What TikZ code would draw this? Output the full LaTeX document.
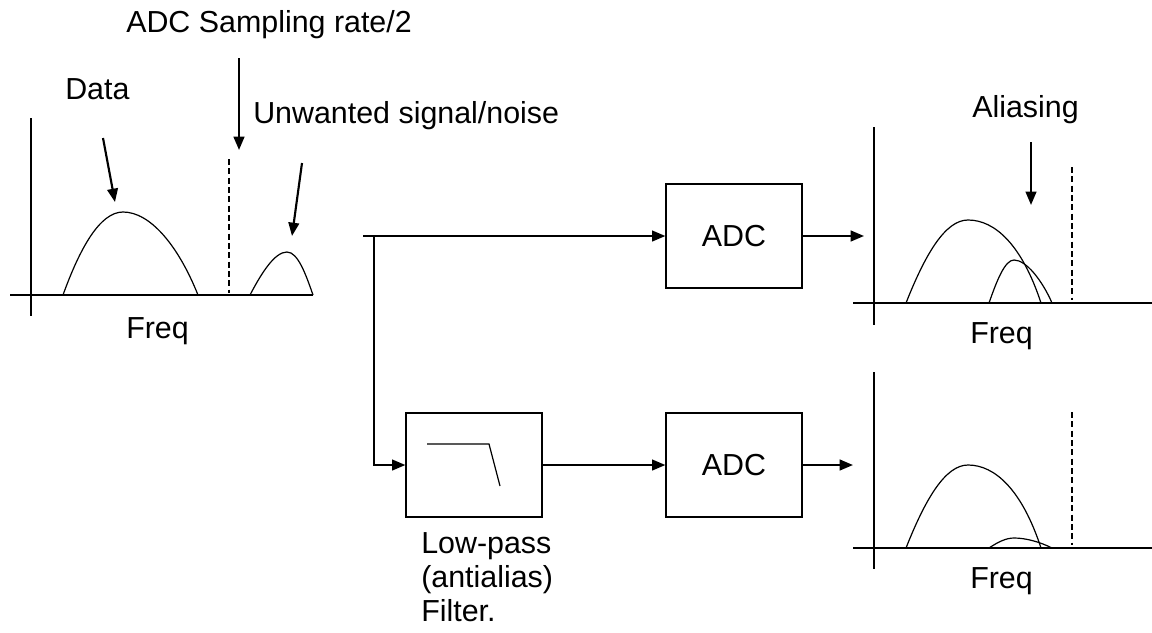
\documentclass[tikz,border=0pt]{standalone}
\usepackage{fontspec}
\setmainfont{Liberation Sans}
\usetikzlibrary{arrows.meta}
\begin{document}
\begin{tikzpicture}[x=0.75pt,y=-0.75pt,
  every node/.style={font=\fontsize{22.8}{25.5}\selectfont},
  lbl/.style={anchor=base west,inner sep=0pt,align=left},
  blk/.style={draw,line width=0.9pt,minimum width=102pt,minimum height=78pt,inner sep=0pt},
  thin/.style={line width=0.9pt},
  arr/.style={line width=1.6pt,-{Triangle[length=10pt,width=8pt]}},
  dsh/.style={line width=1.6pt,dash pattern=on 4.5pt off 2.5pt}]
\useasboundingbox (0,0) rectangle (1152,632);
% ---------- left spectrum ----------
\draw[thin] (31,118) -- (31,316);
\draw[thin] (10,295) -- (313,295);
\draw[thin] (63,295) .. controls (80,248) and (100,212) .. (123,212) .. controls (150,212) and (178,245) .. (198,295);
\draw[thin] (250,295) .. controls (262,272) and (275,252) .. (287,252) .. controls (298,252) and (306,275) .. (313,295);
\draw[dsh] (229,159) -- (229,293);
\node[lbl] (tsamp) at (126,32) {ADC Sampling rate/2};
\node[lbl] (tdata) at (65,99) {Data};
\node[lbl] (tnoise) at (253,123) {Unwanted signal/noise};
\node[lbl] (tfreq1) at (126,338) {Freq};
\coordinate (d0) at (103,138); \coordinate (d1) at (115,202);
\coordinate (s0) at (239,58);  \coordinate (s1) at (239,150);
\coordinate (n0) at (302,163); \coordinate (n1) at (292,236);
\draw[arr] (d0) -- (d1);
\draw[arr] (s0) -- (s1);
\draw[arr] (n0) -- (n1);
% ---------- blocks ----------
\node[blk] (adc1) at (734,236) {ADC};
\node[blk] (adc2) at (734,465) {ADC};
\node[blk] (filt) at (474,465) {};
\draw[thin] (427,444) -- (489,444) -- (500,486);
\node[lbl] (tfilt) at (421,621) {Low-pass\\(antialias)\\Filter.};
\coordinate (in) at (363,236);
\coordinate (split) at (374,236);
\coordinate (o1) at (864,236);
\coordinate (o2) at (853,465);
\draw[line width=1.6pt] (in) -- (split);
\draw[arr] (split) -- (adc1.west);
\draw[arr] (split) |- (filt.west);
\draw[arr] (filt.east) -- (adc2.west);
\draw[arr] (adc1.east) -- (o1);
\draw[arr] (adc2.east) -- (o2);
% ---------- top-right spectrum ----------
\draw[thin] (874,127) -- (874,325);
\draw[thin] (853,303) -- (1152,303);
\draw[thin] (906,303) .. controls (925,255) and (945,220) .. (968,220) .. controls (995,220) and (1022,245) .. (1041,303);
\draw[thin] (989,303) .. controls (997,280) and (1005,260) .. (1014,260) .. controls (1026,260) and (1042,280) .. (1052,303);
\draw[dsh] (1072,167) -- (1072,300);
\node[lbl] (talias) at (972,117) {Aliasing};
\node[lbl] (tfreq2) at (970,343) {Freq};
\coordinate (a0) at (1031,142); \coordinate (a1) at (1031,205);
\draw[arr] (a0) -- (a1);
% ---------- bottom-right spectrum ----------
\draw[thin] (874,372) -- (874,569);
\draw[thin] (853,548) -- (1152,548);
\draw[thin] (906,548) .. controls (925,500) and (945,465) .. (968,465) .. controls (995,465) and (1022,490) .. (1041,548);
\draw[thin] (989,548) .. controls (998,542) and (1006,538) .. (1014,538) .. controls (1026,538) and (1040,542) .. (1052,548);
\draw[dsh] (1072,412) -- (1072,545);
\node[lbl] (tfreq3) at (970,588) {Freq};
\end{tikzpicture}
\end{document}
